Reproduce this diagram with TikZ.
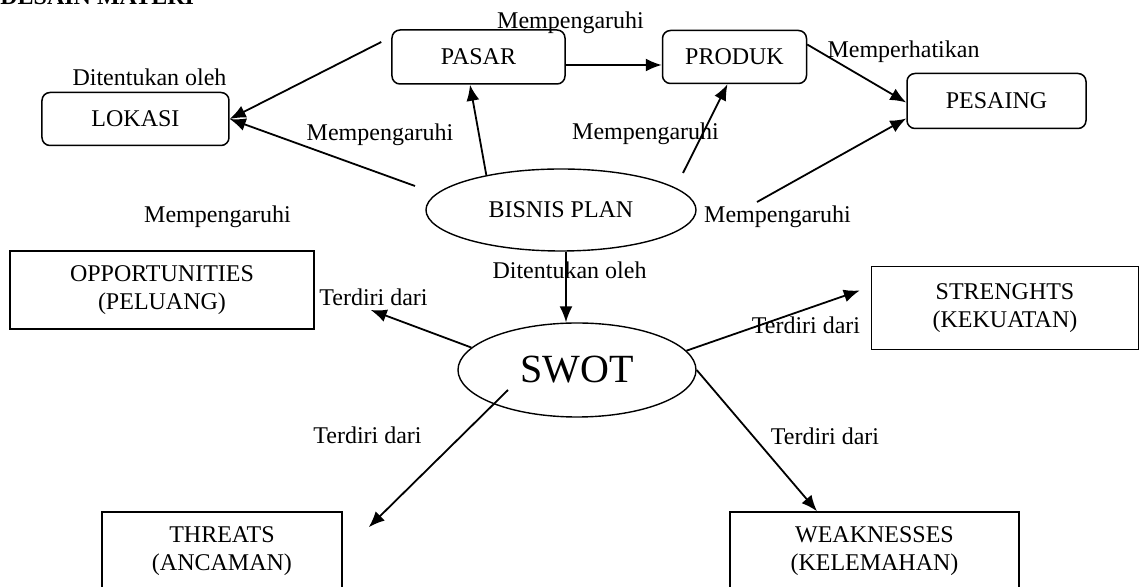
\documentclass[tikz,border=0pt]{standalone}
\usepackage{fontspec}
\setmainfont{Liberation Serif}
\usepackage{tikz}
\usetikzlibrary{positioning}
\usetikzlibrary{shapes,arrows.meta}
\tikzstyle{block} = [rectangle, draw, line width=0.75pt, rounded corners=4pt,
    inner sep=2pt, minimum height=26.5pt]
\tikzstyle{cloud} = [ellipse, draw, line width=0.7pt, inner sep=0pt]
\tikzstyle{swotbox} = [rectangle, draw, line width=0.75pt, align=center,
    inner sep=2pt, minimum height=39pt]
\tikzstyle{lbl} = [inner sep=0pt]
\tikzstyle{line} = [draw, line width=0.9pt, -{Latex[length=8pt,width=6.5pt]}]

\begin{document}
\begin{tikzpicture}[on grid, font=\fontsize{12}{13.8}\selectfont]
\useasboundingbox (-280.5pt,105pt) rectangle (289.5pt,-188.5pt);
            % Nodes
        \node [cloud, minimum width=135pt, minimum height=41pt] (bisnis) {BISNIS PLAN};
        \node [cloud, minimum width=119pt, minimum height=47pt, font=\fontsize{20}{24}\selectfont, below right = 80pt and 8pt of bisnis] (swot) {SWOT};
        \node [block, minimum width=86.5pt, minimum height=27pt, above left = 76.5pt and 41.25pt of bisnis] (pasar) {PASAR};
        \node [block, minimum width=72pt, right = 128pt of pasar] (produk) {PRODUK};
        \node [block, minimum width=89.5pt, minimum height=27.5pt, below right = 22pt and 131pt of produk] (pesaing) {PESAING};
        \node [block, minimum width=93.5pt, below left = 31pt and 171.5pt of pasar] (lokasi) {LOKASI};
        \node [swotbox, minimum width=152pt, above left = 40pt and 207.5pt of swot] (opp) {OPPORTUNITIES\\(PELUANG)};
        \node [swotbox, minimum width=133.5pt, minimum height=41.5pt, above right = 31pt and 214pt of swot] (kuat) {STRENGHTS\\(KEKUATAN)};
        \node [swotbox, minimum width=120pt, below left = 90.5pt and 177.5pt of swot] (ancam) {THREATS\\(ANCAMAN)};
        \node [swotbox, minimum width=144.5pt, below right = 90.5pt and 148.75pt of swot] (lemah) {WEAKNESSES\\(KELEMAHAN)};
        \node [inner sep=0pt, anchor=base west, font=\fontsize{12}{13.8}\selectfont\bfseries] (judul) at ([shift={(-280.5pt,102.5pt)}]bisnis.center) {DESAIN MATERI};
            % Labels
        \node [lbl, above right = 21pt and 7pt of lokasi] (lLokasi) {Ditentukan oleh};
        \node [lbl, above right = 17.3pt and 46pt of pasar] (lPasar) {Mempengaruhi};
        \node [lbl, above right = 38.3pt and 42.25pt of bisnis] (lProduk) {Mempengaruhi};
        \node [lbl, above left = 37.8pt and 90.5pt of bisnis] (lLokasiB) {Mempengaruhi};
        \node [lbl, below left = 3.2pt and 171.75pt of bisnis] (lKiri) {Mempengaruhi};
        \node [lbl, below right = 3.2pt and 108.25pt of bisnis] (lKanan) {Mempengaruhi};
        \node [lbl, above right = 2.5pt and 84.5pt of produk] (lSaing) {Memperhatikan};
        \node [lbl, below right = 29.9pt and 4.25pt of bisnis] (lSwot) {Ditentukan oleh};
        \node [lbl, above left = 36.6pt and 101.75pt of swot] (tOpp) {Terdiri dari};
        \node [lbl, above right = 22.6pt and 114.5pt of swot] (tKuat) {Terdiri dari};
        \node [lbl, below left = 32.4pt and 104.75pt of swot] (tAncam) {Terdiri dari};
        \node [lbl, below right = 33pt and 124pt of swot] (tLemah) {Terdiri dari};
            % Edges
        \path [line] ([yshift=-4pt]pasar.east) -- ([yshift=-4pt]produk.west);
        \path [line] (bisnis.155) -- ([xshift=-4.25pt]pasar.south);
        \path [line] ([shift={(61pt,18.5pt)}]bisnis.center) -- ([xshift=-3.5pt]produk.south);
        \path [line] ([yshift=6.25pt]produk.east) -- ([yshift=-0.75pt]pesaing.west);
        \path [line] ([shift={(98pt,4pt)}]bisnis.center) -- ([yshift=-8.75pt]pesaing.west);
        \path [line] ([shift={(-5pt,7.5pt)}]pasar.west) -- (lokasi.east);
        \path [line] ([shift={(-73pt,12pt)}]bisnis.center) -- (lokasi.east);
        \path [line] ([xshift=2.5pt]bisnis.south) -- ([xshift=-5.5pt]swot.north);
        \path [line] (swot.168) -- ([shift={(28pt,-10pt)}]opp.east);
        \path [line] (swot.10) -- ([shift={(-5.5pt,8.75pt)}]kuat.west);
        \path [line] ([shift={(-34.5pt,-10pt)}]swot.center) -- ([shift={(13pt,-8pt)}]ancam.north east);
        \path [line] (swot.east) -- ([xshift=-28.75pt]lemah.north);
\end{tikzpicture}
\end{document}
